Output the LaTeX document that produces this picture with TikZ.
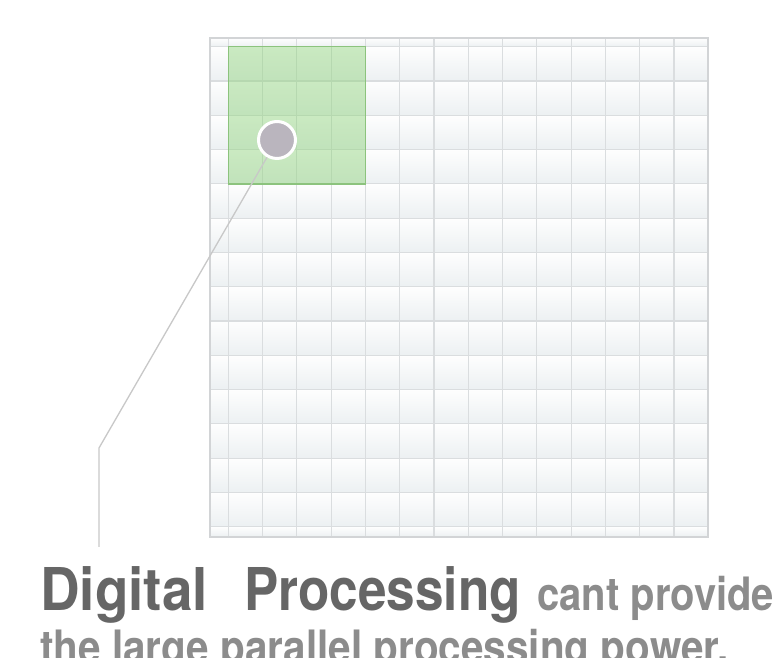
\documentclass[tikz,border=0pt]{standalone}
\usepackage{fontspec}
\setmainfont{TeX Gyre Heros}
\newfontfamily\herosA[FakeStretch=0.93]{TeX Gyre Heros}
\newfontfamily\herosB[FakeStretch=0.87]{TeX Gyre Heros}
\newfontfamily\herosC[FakeStretch=0.88]{TeX Gyre Heros}
\definecolor{gridline}{RGB}{218,221,223}
\definecolor{framegrey}{RGB}{210,212,214}
\definecolor{cellhi}{RGB}{254,254,254}
\definecolor{celllo}{RGB}{236,240,242}
\definecolor{greenfill}{RGB}{140,210,120}
\definecolor{greenedge}{RGB}{140,195,125}
\definecolor{dotgrey}{RGB}{186,181,190}
\definecolor{leadgrey}{RGB}{200,200,200}
\definecolor{titlegrey}{RGB}{102,102,102}
\definecolor{bodygrey}{RGB}{140,140,140}
\tikzset{
  cellshade/.style={top color=cellhi, bottom color=celllo},
  gridrule/.style={draw=gridline, line width=1.1pt},
  lead/.style={draw=leadgrey, line width=1.3pt},
  titletext/.style={anchor=base west, inner sep=0pt, text=titlegrey},
  bodytext/.style={anchor=base west, inner sep=0pt, text=bodygrey},
}
\begin{document}
\begin{tikzpicture}[x=1pt,y=1pt]
\useasboundingbox (0,0) rectangle (782,658);
\fill[white] (0,0) rectangle (782,658);
% cells
\foreach \i in {0,...,13} {
  \foreach \j in {0,...,13} {
    \shade[cellshade] ({228.3+34.2857*\i},{611.3-34.2857*(\j+1)}) rectangle +(34.2857,34.2857);
  }
  \shade[cellshade] ({228.3+34.2857*\i},611.3) rectangle +(34.2857,8.7);
  \shade[cellshade] ({228.3+34.2857*\i},121) rectangle +(34.2857,10.3);
  \shade[cellshade] (210,{611.3-34.2857*(\i+1)}) rectangle +(18.3,34.2857);
}
\shade[cellshade] (210,611.3) rectangle (228.3,620);
\shade[cellshade] (210,121) rectangle (228.3,131.3);
% grid rules
\foreach \k in {0,...,14} {
  \draw[gridrule] ({228.3+34.2857*\k},121) -- ({228.3+34.2857*\k},620);
  \draw[gridrule] (210,{611.3-34.2857*\k}) -- (708,{611.3-34.2857*\k});
}
\draw[draw=framegrey, line width=1.3pt] (210,121) rectangle (708,620);
% green block
\fill[greenfill, opacity=0.45] (228.3,474) rectangle (365.4,611.3);
\draw[draw=greenedge, line width=1.3pt] (228.3,474) rectangle (365.4,611.3);
% dot and leader
\node[circle, fill=dotgrey, draw=white, line width=3pt, minimum size=37pt, inner sep=0pt] (dot) at (277,518) {};
\coordinate (bend) at (99,210);
\coordinate (leadend) at (99,111);
\draw[lead] (dot) -- (bend) -- (leadend);
% text
\node[titletext, font=\herosA\bfseries\fontsize{59}{59}\selectfont] (word1) at (40,47) {Digital};
\node[titletext, font=\herosB\bfseries\fontsize{59}{59}\selectfont] (word2) at (244,47) {Processing};
\node[bodytext, font=\herosB\bfseries\fontsize{46}{46}\selectfont] (tail) at (537,47) {cant provide};
\node[bodytext, font=\herosC\bfseries\fontsize{46}{46}\selectfont] (second) at (40,-6) {the large parallel processing power.};
\end{tikzpicture}
\end{document}
